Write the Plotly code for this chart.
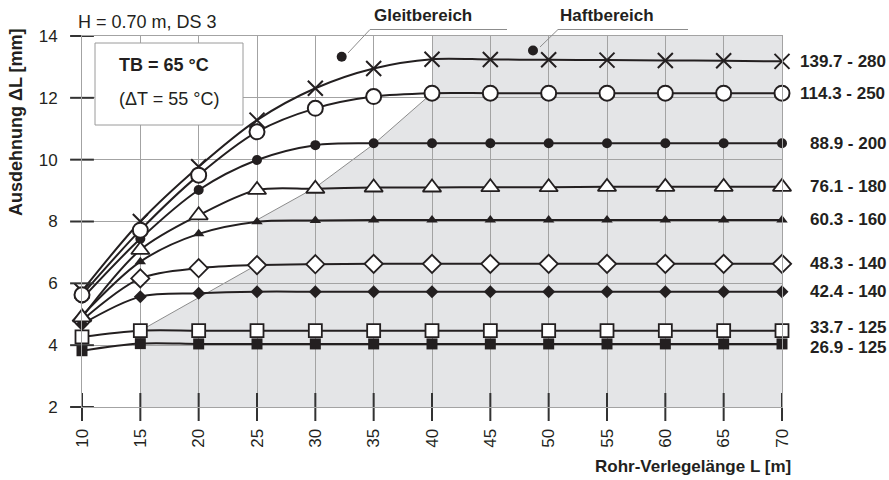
import plotly.graph_objects as go

# ---------------- data ----------------
lengths = [10, 15, 20, 25, 30, 35, 40, 45, 50, 55, 60, 65, 70]

s_139 = [5.75, 8.00, 9.77, 11.28, 12.31, 12.95, 13.25, 13.24, 13.23, 13.22, 13.21, 13.20, 13.18]
s_114 = [5.63, 7.72, 9.50, 10.90, 11.66, 12.04, 12.15, 12.15, 12.15, 12.15, 12.15, 12.15, 12.15]
s_889 = [5.50, 7.44, 9.02, 9.99, 10.47, 10.53, 10.53, 10.53, 10.53, 10.53, 10.53, 10.53, 10.53]
s_761 = [4.90, 7.08, 8.20, 9.02, 9.06, 9.10, 9.10, 9.11, 9.11, 9.12, 9.12, 9.12, 9.12]
s_603 = [4.95, 6.70, 7.60, 7.99, 8.03, 8.05, 8.05, 8.05, 8.05, 8.05, 8.05, 8.05, 8.05]
s_483 = [4.80, 6.16, 6.49, 6.59, 6.62, 6.63, 6.63, 6.63, 6.63, 6.63, 6.63, 6.63, 6.63]
s_424 = [4.68, 5.57, 5.68, 5.73, 5.73, 5.73, 5.73, 5.73, 5.73, 5.73, 5.73, 5.73, 5.73]
s_337 = [4.27, 4.47, 4.47, 4.47, 4.47, 4.47, 4.47, 4.47, 4.47, 4.47, 4.47, 4.47, 4.47]
s_269 = [3.82, 4.05, 4.04, 4.04, 4.04, 4.04, 4.04, 4.04, 4.04, 4.04, 4.04, 4.04, 4.04]

series_labels = ["139.7 - 280", "114.3 - 250", "88.9 - 200", "76.1 - 180", "60.3 - 160",
                 "48.3 - 140", "42.4 - 140", "33.7 - 125", "26.9 - 125"]
series_values = [s_139, s_114, s_889, s_761, s_603, s_483, s_424, s_337, s_269]

# boundary of the "Haftbereich" (adhesion zone)
haft_x = [15, 15, 25, 25, 30, 35, 40, 40, 70, 70]
haft_y = [2, 4.47, 6.6, 8.05, 9.1, 10.5, 12.15, 14, 14, 2]
edge1_x = [15, 25]
edge1_y = [4.47, 6.6]
edge2_x = [25, 30, 35, 40]
edge2_y = [8.05, 9.1, 10.5, 12.15]

x_ticks = [10, 15, 20, 25, 30, 35, 40, 45, 50, 55, 60, 65, 70]
y_ticks = [2, 4, 6, 8, 10, 12, 14]

# ---------------- style ----------------
DARK = "#231f20"
GRID = "#a3a3a3"
FONT = "Liberation Sans, Arial, sans-serif"

marker_styles = [
    dict(symbol="x-thin-open", size=15, color=DARK, line=dict(width=2, color=DARK)),
    dict(symbol="circle", size=15, color="white", line=dict(width=2, color=DARK)),
    dict(symbol="circle", size=10, color=DARK, line=dict(width=0)),
    dict(symbol="triangle-up", size=16, color="white", line=dict(width=1.8, color=DARK)),
    dict(symbol="triangle-up", size=10, color=DARK, line=dict(width=0)),
    dict(symbol="diamond", size=14, color="white", line=dict(width=1.8, color=DARK)),
    dict(symbol="diamond", size=10, color=DARK, line=dict(width=0)),
    dict(symbol="square", size=13, color="white", line=dict(width=1.8, color=DARK)),
    dict(symbol="square", size=11, color=DARK, line=dict(width=0)),
]
label_xshift = [16, 16, 26, 26, 26, 26, 26, 26, 26]
label_yshift = [0, 0, 0, 0, 0, 0, 0, 3, -4]
marker_order = [0, 2, 1, 4, 5, 6, 3, 8, 7]

fig = go.Figure()

# lines
for vals in series_values:
    fig.add_trace(go.Scatter(x=lengths, y=vals, mode="lines",
                             line=dict(color=DARK, width=2, shape="spline", smoothing=0.9),
                             hoverinfo="skip", showlegend=False, cliponaxis=False))
# markers
for i in marker_order:
    fig.add_trace(go.Scatter(x=lengths, y=series_values[i], mode="markers",
                             marker=marker_styles[i], showlegend=False, cliponaxis=False))

# crossing tick marks
fig.add_trace(go.Scatter(x=x_ticks, y=[y_ticks[0]] * len(x_ticks), mode="markers",
                         marker=dict(symbol="line-ns", size=20, line=dict(width=2, color="#333")),
                         showlegend=False, cliponaxis=False, hoverinfo="skip"))
fig.add_trace(go.Scatter(x=[x_ticks[0]] * len(y_ticks), y=y_ticks, mode="markers",
                         marker=dict(symbol="line-ew", size=17, line=dict(width=2, color="#333")),
                         showlegend=False, cliponaxis=False, hoverinfo="skip"))

# shaded zone
path = "M " + " L ".join(f"{x},{y}" for x, y in zip(haft_x, haft_y)) + " Z"
shapes = [dict(type="path", path=path, xref="x", yref="y", fillcolor="#e4e5e7",
               line=dict(width=0), layer="below")]
for ex, ey in ((edge1_x, edge1_y), (edge2_x, edge2_y)):
    p = "M " + " L ".join(f"{x},{y}" for x, y in zip(ex, ey))
    shapes.append(dict(type="path", path=p, xref="x", yref="y",
                       line=dict(width=1, color="#8c8c8c"), layer="below"))


def px(v):
    return (v - 82) / 700.0


def py(v):
    return (407 - v) / 371.0


# info box
shapes.append(dict(type="rect", xref="paper", yref="paper", x0=px(95), x1=px(243),
                   y0=py(125), y1=py(43), fillcolor="white", line=dict(color="#9a9a9a", width=1)))
# leaders
for (u0, u1, l1x, l1y, dx, dy) in ((370, 507, 348, 53, 341.7, 56.7), (558, 688, 540, 47, 533, 50.5)):
    shapes.append(dict(type="line", xref="paper", yref="paper", x0=px(u0), x1=px(u1),
                       y0=py(29.5), y1=py(29.5), line=dict(color="#8c8c8c", width=1)))
    shapes.append(dict(type="line", xref="paper", yref="paper", x0=px(u0), x1=px(l1x),
                       y0=py(29.5), y1=py(l1y), line=dict(color="#8c8c8c", width=1)))
    shapes.append(dict(type="circle", xref="paper", yref="paper", x0=px(dx - 5), x1=px(dx + 5),
                       y0=py(dy + 5), y1=py(dy - 5), fillcolor=DARK, line=dict(width=0)))

annotations = []
for i, lab in enumerate(series_labels):
    annotations.append(dict(x=lengths[-1], y=series_values[i][-1], xref="x", yref="y",
                            text=f"<b>{lab}</b>", showarrow=False, xanchor="left", yanchor="middle",
                            xshift=label_xshift[i], yshift=label_yshift[i],
                            font=dict(family=FONT, size=17, color=DARK)))

annotations += [
    dict(x=px(76), y=py(22), xref="paper", yref="paper", text="H = 0.70 m, DS 3",
         showarrow=False, xanchor="left", yanchor="middle", font=dict(family=FONT, size=18, color=DARK)),
    dict(x=px(423), y=py(16), xref="paper", yref="paper", text="<b>Gleitbereich</b>",
         showarrow=False, xanchor="center", yanchor="middle", font=dict(family=FONT, size=17, color=DARK)),
    dict(x=px(607), y=py(16), xref="paper", yref="paper", text="<b>Haftbereich</b>",
         showarrow=False, xanchor="center", yanchor="middle", font=dict(family=FONT, size=17, color=DARK)),
    dict(x=px(117), y=py(65), xref="paper", yref="paper", text="<b>TB = 65 °C</b>",
         showarrow=False, xanchor="left", yanchor="middle", font=dict(family=FONT, size=18, color=DARK)),
    dict(x=px(117), y=py(99), xref="paper", yref="paper", text="(ΔT = 55 °C)",
         showarrow=False, xanchor="left", yanchor="middle", font=dict(family=FONT, size=18, color=DARK)),
    dict(x=px(16), y=py(122), xref="paper", yref="paper", text="<b>Ausdehnung ΔL [mm]</b>",
         showarrow=False, textangle=-90, xanchor="center", yanchor="middle",
         font=dict(family=FONT, size=18, color=DARK)),
    dict(x=px(793), y=py(466), xref="paper", yref="paper", text="<b>Rohr-Verlegelänge L [m]</b>",
         showarrow=False, xanchor="right", yanchor="middle", font=dict(family=FONT, size=17, color=DARK)),
]

fig.update_layout(
    width=889, height=480,
    margin=dict(l=82, r=107, t=36, b=73),
    paper_bgcolor="white", plot_bgcolor="white",
    shapes=shapes, annotations=annotations,
    font=dict(family=FONT, size=17, color=DARK),
)
fig.update_xaxes(range=[10, 70], tickvals=x_ticks, tickangle=-90,
                 showgrid=True, gridcolor=GRID, gridwidth=1,
                 showline=True, mirror=True, linecolor=GRID, linewidth=1,
                 ticks="outside", ticklen=14, tickcolor="rgba(0,0,0,0)",
                 zeroline=False, tickfont=dict(family=FONT, size=17, color=DARK))
fig.update_yaxes(range=[2, 14], tickvals=y_ticks,
                 showgrid=True, gridcolor=GRID, gridwidth=1,
                 showline=True, mirror=True, linecolor=GRID, linewidth=1,
                 ticks="outside", ticklen=20, tickcolor="rgba(0,0,0,0)",
                 zeroline=False, tickfont=dict(family=FONT, size=17, color=DARK))

# remove the default 8px page margin so the figure sits at the window's top-left corner
fig.write_html("out.html", config={"displayModeBar": False},
               post_script="document.body.style.margin='0px';")
